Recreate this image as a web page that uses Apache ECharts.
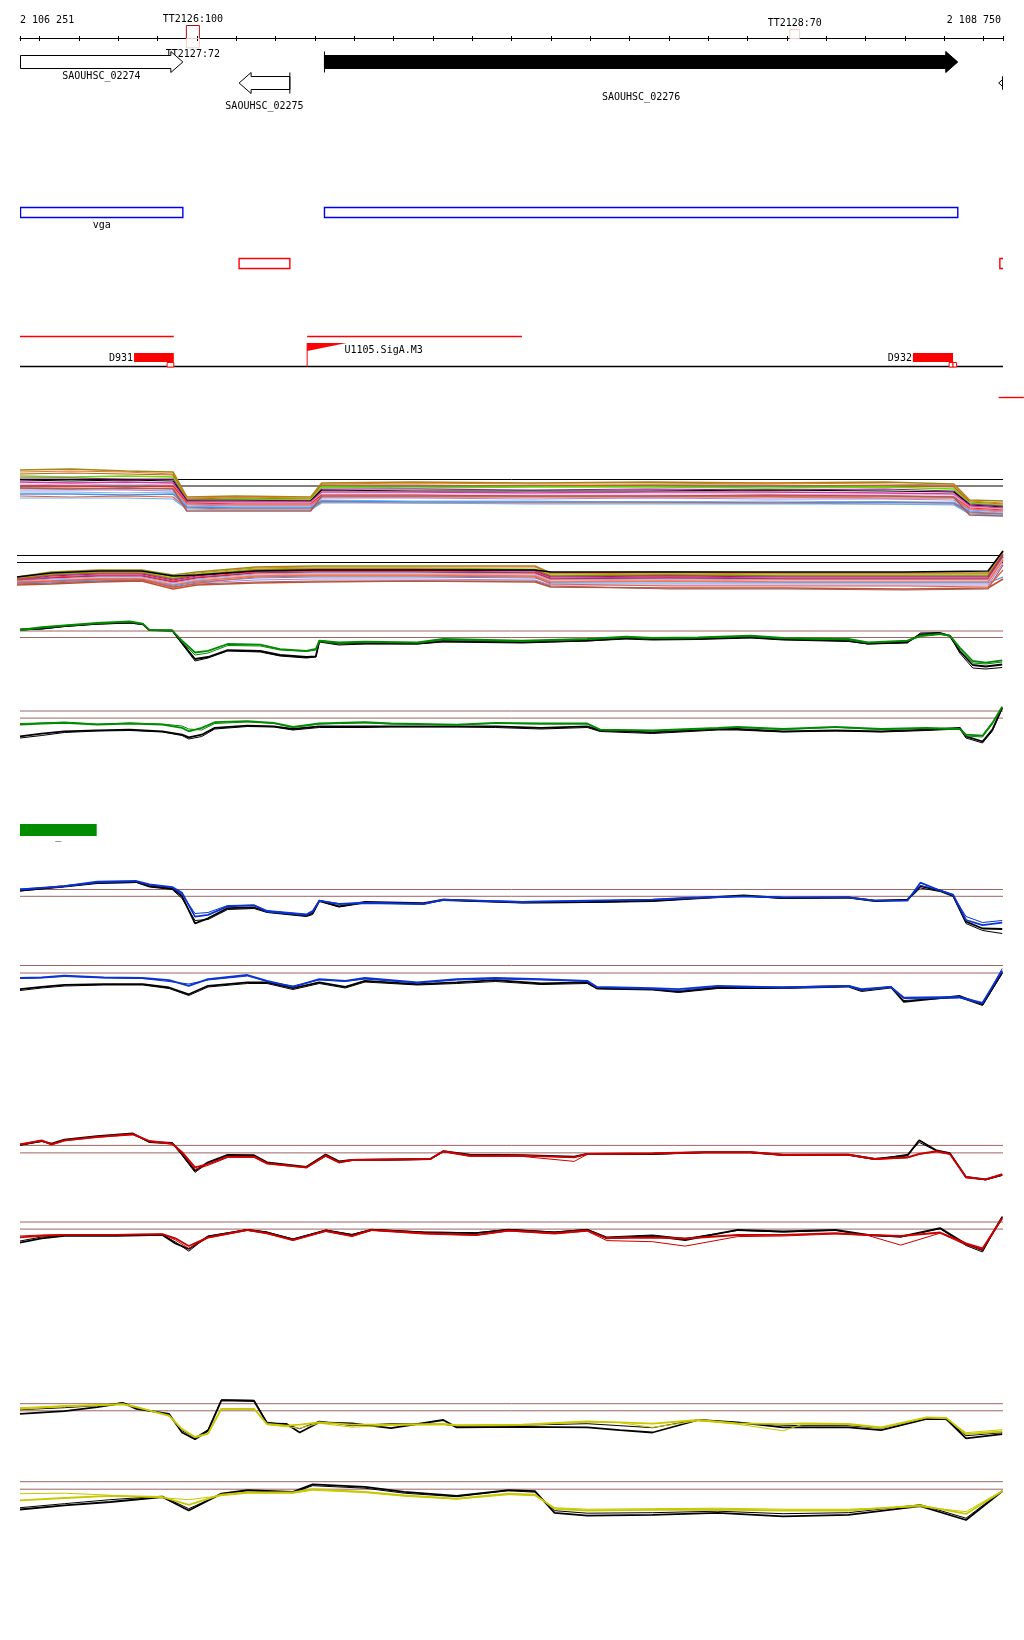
<!DOCTYPE html>
<html><head><meta charset="utf-8">
<script src="https://cdn.jsdelivr.net/npm/echarts@6/dist/echarts.min.js"></script>
<style>html,body{margin:0;padding:0;background:#fff}#c{width:1024px;height:1640px}</style>
</head><body><div id="c"></div>
<script>
// ================= DATA =================
const START = 2106251, END = 2108750;
const rulerTicks = [2106251,2106300,2106400,2106500,2106600,2106700,2106800,2106900,2107000,2107100,2107200,2107300,2107400,2107500,2107600,2107700,2107800,2107900,2108000,2108100,2108200,2108300,2108400,2108500,2108600,2108700,2108750];
const rulerLabelPos = [2106251, 2108750];
const rulerLabels = ['2 106 251', '2 108 750'];

const geneNames  = ['SAOUHSC_02274','SAOUHSC_02275','SAOUHSC_02276',''];
const geneStart  = [2106200, 2106808, 2107025, 2108739];
const geneEnd    = [2106665, 2106937, 2108635, 2109100];
const geneStrand = ['+','-','+','-'];
const geneFilled = [false, false, true, false];

const ttNames  = ['TT2126:100','TT2127:72','TT2128:70'];
const ttStart  = [2106674, 2106674, 2108208];
const ttEnd    = [2106707, 2106707, 2108233];
const ttStrand = ['+','-','+'];
const ttScore  = [100, 72, 70];

const unitNames = ['vga',''];
const unitStart = [2106251, 2107025];
const unitEnd   = [2106665, 2108635];

const redBoxStart = [2106808, 2108742];
const redBoxEnd   = [2106937, 2109100];

const redLineStart = [2106251, 2106981];
const redLineEnd   = [2106642, 2107527];
const redLine2Start = [2108739];
const redLine2End   = [2108803];

const siteNames = ['D931','D932'];
const siteStart = [2106541, 2108521];
const siteEnd   = [2106642, 2108623];
const smallBoxStart = [2106625, 2108613, 2108623];
const smallBoxEnd   = [2106642, 2108623, 2108632];
const flagNames = ['U1105.SigA.M3'];
const flagStart = [2106981];
const flagEnd   = [2107081];

const greenNames = ['_'];
const greenStart = [2106251];
const greenEnd   = [2106446];

// ---- multi-sample track (upper / lower) ----
const posA1 = [2106251,2106380,2106520,2106640,2106675,2106800,2106990,2107018,2107250,2107550,2107850,2108150,2108450,2108625,2108665,2108750];
const thrA1 = [-1.5, -8];
const valsA1 = [
 [8,9,7,6,-19,-18,-19,-5,-4,-5,-4,-5,-4,-6,-22,-23],
 [6,7,6,4,-20,-19,-20,-6,-5,-6,-6,-5,-6,-7,-23,-25],
 [4,5,4,3,-21,-20,-21,-7,-7,-8,-7,-7,-8,-9,-24,-26],
 [2,1,2,1,-22,-21,-22,-9,-10,-9,-9,-10,-9,-11,-25,-27],
 [0,0,-1,-1,-22,-22,-23,-11,-11,-12,-11,-12,-11,-13,-26,-28],
 [-2,-3,-2,-3,-23,-23,-23,-12,-13,-13,-13,-12,-13,-14,-27,-29],
 [-4,-5,-4,-5,-24,-24,-24,-14,-14,-15,-14,-14,-15,-16,-28,-30],
 [-6,-7,-6,-7,-25,-25,-25,-16,-16,-16,-16,-16,-17,-17,-29,-31],
 [-8,-8,-9,-8,-25,-26,-26,-17,-17,-18,-18,-17,-18,-19,-30,-32],
 [-10,-10,-11,-10,-26,-27,-27,-19,-19,-19,-19,-19,-20,-20,-31,-33],
 [-12,-12,-12,-13,-27,-28,-28,-20,-20,-21,-20,-21,-21,-22,-32,-34],
 [-14,-14,-15,-14,-28,-29,-29,-22,-23,-23,-24,-23,-24,-24,-33,-35],
 [-16,-16,-17,-16,-29,-30,-30,-23,-24,-24,-24,-25,-24,-25,-34,-36],
 [-18,-19,-18,-19,-30,-31,-31,-24,-25,-25,-25,-25,-26,-26,-35,-36],
 [-20,-20,-20,-21,-31,-32,-32,-25,-25,-26,-26,-26,-26,-27,-36,-37],
 [-10,-11,-10,-11,-33,-33,-33,-18,-18,-18,-18,-18,-18,-19,-37,-38]
];
const posA2 = [2106243,2106330,2106450,2106560,2106640,2106700,2106850,2107000,2107250,2107560,2107600,2107900,2108200,2108500,2108712,2108750];
const thrA2 = [-0.5, -7.5];
const valsA2 = [
 [-22,-17,-15,-15,-20,-17,-12,-11,-11,-11,-18,-17,-18,-18,-18,4],
 [-23,-18,-16,-16,-22,-18,-13,-12,-12,-12,-19,-18,-19,-19,-19,3],
 [-24,-19,-17,-17,-23,-19,-14,-13,-13,-14,-20,-19,-20,-20,-20,2],
 [-24,-20,-18,-18,-24,-20,-15,-14,-14,-15,-21,-20,-21,-21,-21,1],
 [-25,-21,-19,-19,-25,-21,-16,-15,-15,-16,-22,-21,-22,-22,-22,0],
 [-25,-22,-20,-20,-26,-22,-17,-16,-16,-17,-23,-22,-23,-23,-23,-1],
 [-26,-23,-21,-21,-27,-23,-18,-17,-17,-18,-24,-23,-24,-24,-24,-2],
 [-26,-24,-22,-22,-28,-24,-19,-18,-18,-19,-25,-24,-25,-25,-25,-3],
 [-27,-25,-23,-23,-29,-25,-20,-19,-19,-20,-26,-25,-26,-26,-26,-4],
 [-27,-26,-24,-24,-30,-26,-21,-20,-20,-21,-27,-26,-27,-27,-27,-5],
 [-28,-27,-25,-25,-31,-27,-23,-22,-22,-23,-28,-28,-28,-28,-28,-22],
 [-29,-28,-26,-25,-32,-28,-25,-24,-24,-25,-30,-30,-30,-30,-30,-8],
 [-30,-29,-27,-26,-34,-30,-28,-27,-26,-27,-32,-33,-33,-34,-33,-24],
 [-29,-28,-26,-25,-32,-29,-27,-26,-26,-26,-31,-34,-34,-35,-34,-10],
 [-28,-26,-24,-24,-33,-28,-22,-21,-21,-22,-29,-31,-31,-31,-32,-15],
 [-22,-18,-16,-16,-21,-20,-16,-15,-15,-15,-17,-17,-17,-17,-16,4]
];

// ---- green track ----
const posB1 = [2106251,2106306,2106364,2106447,2106530,2106563,2106580,2106638,2106663,2106696,2106729,2106779,2106862,2106912,2106979,2107003,2107012,2107062,2107128,2107261,2107327,2107527,2107693,2107792,2107859,2107975,2108108,2108191,2108357,2108407,2108507,2108540,2108590,2108615,2108640,2108673,2108706,2108748];
const thrB1 = [0, -6.5];
const b1Color   = [1.2,3.9,5.6,8,9.6,7.3,1.2,0.5,-9.7,-21.5,-19.8,-13,-13.7,-18.2,-19.8,-18,-9.7,-11.4,-10.7,-11.4,-8,-9.7,-8,-5.6,-7,-6.3,-4.6,-7,-8,-11.4,-9.7,-4.6,-2.9,-4.6,-16.5,-30,-31.7,-29.3];
const b1Color2  = [0.5,3,5,7.5,9,7,1,0.3,-11,-24,-22,-14.5,-15,-19,-20.5,-19,-10.5,-12.5,-11.5,-12,-9,-10.5,-8.5,-6.5,-7.5,-7,-5.5,-7.5,-9,-12,-10,-5.5,-3.5,-5,-18,-32,-33,-31];
const b1Black   = [1.5,2.5,5,7.2,8.5,6.8,0.8,0.5,-12,-28,-26,-19.2,-20,-24,-26,-25.5,-10,-12.5,-12,-12.5,-10,-11,-9.5,-7,-8,-7.5,-6,-8,-9.5,-12.5,-11,-3.5,-2.5,-5,-20,-34,-35.5,-33.5];
const b1Black2  = [1,2,4.5,7,8,6.5,0.5,0.3,-13,-30,-27,-20,-21,-25,-27,-26,-11,-14,-13,-13,-11,-12,-10,-8,-9,-8.5,-7,-9,-10.5,-13,-12,-2,-1.5,-4.5,-22,-37,-38,-36.5];

const posB2 = [2106251,2106306,2106364,2106447,2106530,2106613,2106663,2106680,2106713,2106746,2106829,2106896,2106945,2107012,2107128,2107194,2107361,2107460,2107576,2107693,2107726,2107859,2108025,2108075,2108191,2108324,2108440,2108556,2108640,2108656,2108698,2108723,2108748];
const thrB2 = [0, -7.1];
const b2Color  = [-13.6,-12.5,-11.9,-13.6,-12.5,-13.6,-16.9,-20.3,-16.9,-11.2,-10.2,-11.9,-15.9,-12.5,-11.2,-12.5,-13.6,-11.9,-12.5,-12.5,-18.6,-19.3,-16.9,-15.9,-18,-15.9,-18,-16.9,-18,-23.7,-24.7,-11.9,4.4];
const b2Color2 = [-12.5,-12,-11,-13,-12,-13,-15,-18,-19,-12.5,-11,-12.5,-16.5,-13,-12,-13,-14,-12.5,-13,-13,-19,-20,-17.5,-16.5,-18.5,-16.5,-18.5,-17.5,-18.5,-25,-26,-13,4];
const b2Black  = [-25.4,-22.7,-20.3,-19.3,-18.6,-20.3,-23.7,-26.4,-23.7,-16.9,-14.6,-15.3,-18,-15.3,-15.3,-15.3,-15.3,-15.3,-16.9,-15.3,-19.3,-21.4,-18,-18,-20.3,-19.3,-20.3,-18.6,-16.9,-25.4,-30.5,-18.6,3.4];
const b2Black2 = [-27,-24.5,-21.5,-20,-19.5,-21,-24.5,-28,-25.5,-18,-15.5,-16,-19,-16.5,-16.5,-16,-16,-16.5,-18,-16.5,-20.5,-22.5,-19,-19,-21,-20,-21,-19.5,-18,-27,-32,-20,2.5];

// ---- blue track ----
const posC1 = [2106251,2106364,2106447,2106547,2106580,2106638,2106663,2106696,2106729,2106779,2106846,2106879,2106979,2106995,2107012,2107062,2107128,2107277,2107327,2107527,2107693,2107859,2107942,2108091,2108191,2108357,2108424,2108507,2108540,2108590,2108623,2108656,2108698,2108748];
const thrC1 = [0, -6.8];
const c1Color  = [0,3.4,7.8,8.5,5.1,2.4,-3.4,-27.1,-25.4,-16.9,-15.9,-22,-25.4,-22,-11.2,-14.6,-13.6,-14.6,-10.2,-12.5,-11.2,-10.2,-8.5,-6.8,-7.8,-7.8,-11.2,-11.2,6.8,-1,-5.1,-30.5,-35.6,-33.2];
const c1Color2 = [0.5,3,7,8,4.5,2,-5,-24,-23,-16,-15.5,-21,-24.5,-21,-11,-14,-13,-14,-10.5,-12,-11.5,-10,-8.5,-7,-8,-8,-11,-11,4,-0.5,-6,-27,-33,-31];
const c1Black  = [-1,3.4,6.8,7.5,3.4,1,-6.8,-33.9,-28.8,-18.6,-18,-22,-26.1,-23.7,-11.2,-16.9,-12.5,-13.6,-10.2,-12.9,-12.5,-11.2,-9.2,-5.8,-8.5,-7.8,-11.2,-10.2,3.4,-1,-5.8,-32.2,-39,-39.5];
const c1Black2 = [-1.5,2.5,6,7,2.5,0,-9,-31,-30,-20,-19,-23,-27,-25,-12,-17.5,-13.5,-14.5,-11,-13.5,-13,-12,-10,-6.5,-9,-8.5,-12,-11,1.5,-2,-7,-34,-41,-44];

const posC2 = [2106251,2106306,2106364,2106464,2106563,2106630,2106680,2106729,2106829,2106879,2106945,2107012,2107078,2107128,2107261,2107361,2107460,2107576,2107693,2107718,2107859,2107925,2108025,2108191,2108357,2108390,2108465,2108498,2108640,2108698,2108748];
const thrC2 = [0, -7.5];
const c2Color  = [-12.5,-11.9,-10.2,-11.9,-12.5,-14.6,-20.3,-13.6,-9.5,-15.3,-21.4,-13.6,-15.3,-12.5,-16.9,-13.6,-12.5,-13.6,-15.3,-21.4,-22.7,-23.7,-20.3,-22,-20.3,-23.7,-21.4,-32.2,-31.5,-37.3,-5.1];
const c2Color2 = [-13,-12.5,-11,-12.5,-13,-16,-18.5,-14.5,-10.5,-16,-20.5,-14.5,-16,-13.5,-17.5,-14.5,-13.5,-14.5,-16,-22,-23.5,-25,-21,-22.5,-21,-24.5,-22,-33,-32.5,-38,-3];
const c2Black  = [-23.7,-21.4,-19.3,-18.6,-18.6,-22,-28.8,-20.3,-16.9,-16.9,-22.7,-16.9,-21.4,-15.3,-18.6,-16.9,-14.6,-18,-16.9,-22.7,-23.7,-26.1,-22,-22,-20.3,-24.7,-21.4,-36.3,-30.5,-39,-6.8];
const c2Black2 = [-25,-22.5,-20.5,-19.5,-19.5,-23,-30,-21.5,-18,-18,-24,-18,-22.5,-16.5,-19.5,-18,-16,-19,-18,-23.5,-24.5,-27,-23,-23,-21.5,-26,-22.5,-35,-32,-40,-8];

// ---- red track ----
const posD1 = [2106251,2106306,2106331,2106364,2106447,2106538,2106580,2106638,2106663,2106696,2106729,2106779,2106846,2106879,2106979,2107028,2107062,2107095,2107294,2107327,2107394,2107527,2107660,2107693,2107859,2107992,2108108,2108191,2108357,2108424,2108507,2108537,2108581,2108615,2108656,2108706,2108748];
const thrD1 = [0, -7.5];
const d1Color  = [1,5.1,1,5.1,8.5,11.2,4.4,1.7,-6.8,-22,-18.6,-11.2,-11.2,-18,-22,-10.2,-16.9,-14.6,-13.6,-5.8,-10.2,-10.2,-11.9,-8.5,-7.8,-6.8,-6.8,-9.2,-9.2,-13.6,-11.9,-8.5,-5.8,-8.5,-32.2,-33.9,-28.8];
const d1Color2 = [0.5,4.5,0.5,4.5,8,10.5,4,1,-8,-24,-20,-12,-12,-18.5,-22.5,-11,-17.5,-15,-14,-6.5,-11,-11,-16,-9,-8.5,-7.5,-7.5,-10,-10,-14,-12.5,-9,-6.5,-9,-31,-34.5,-29.5];
const d1Black  = [0.7,4.4,1.7,5.8,9.2,11.9,3.4,2.4,-8.5,-25.4,-16.9,-9.5,-9.8,-16.9,-21.4,-9.2,-15.9,-14.6,-13.6,-5.8,-9.2,-9.8,-11.2,-8.5,-8.5,-6.8,-6.8,-9.5,-9.2,-13.6,-10.2,5.1,-5.1,-7.8,-31.5,-33.9,-29.5];
const d1Black2 = [0,4,1.2,5.3,8.8,11.5,3,2,-10,-27,-17.5,-10,-10.3,-17.5,-22,-9.7,-16.5,-15,-14,-6.3,-9.7,-10.3,-11.7,-9,-9,-7.3,-7.3,-10,-9.7,-14,-9,3,-5.5,-8.3,-32,-34.5,-30];

const posD2 = [2106251,2106306,2106364,2106497,2106613,2106646,2106680,2106729,2106829,2106879,2106945,2107028,2107095,2107145,2107277,2107410,2107493,2107610,2107693,2107743,2107859,2107942,2108075,2108191,2108324,2108407,2108490,2108590,2108656,2108698,2108748];
const thrD2 = [0, -7.1];
const d2Color  = [-15.3,-13.9,-12.9,-12.9,-12.2,-16.3,-24,-15.3,-7.8,-11.2,-18,-8.8,-13.9,-7.8,-11.2,-12.9,-8.5,-11.2,-8.5,-16,-15.5,-16.5,-13,-12.9,-11.2,-12.9,-14,-10.5,-21.4,-26.4,4.1];
const d2Color2 = [-14,-13,-12.5,-12.5,-12,-18,-26.4,-16,-8.5,-11.8,-18.6,-9.5,-14.5,-8.5,-12,-13.5,-9,-12,-9.2,-18.6,-19.7,-24.1,-14.6,-14,-12,-13.5,-23.1,-11.2,-23,-28,3];
const d2Black  = [-20.7,-16.3,-13.9,-13.9,-12.9,-21.4,-27,-14.6,-7.8,-10.5,-17.3,-8.5,-12.9,-7.8,-10.5,-11.2,-7.8,-10.5,-7.8,-16.3,-13.9,-18,-7.8,-9.5,-7.8,-12.9,-14.6,-6.1,-22,-28.1,5.1];
const d2Black2 = [-19,-15,-13.5,-13.5,-12.5,-20,-29.2,-14,-7.5,-10,-17,-8,-12.5,-7.3,-10,-10.8,-7.3,-10,-7.3,-15,-13,-16.5,-8.5,-10,-8.5,-13.5,-15,-6.8,-23.5,-30,5.5];

// ---- yellow track ----
const posE1 = [2106251,2106364,2106447,2106513,2106547,2106630,2106663,2106696,2106729,2106763,2106846,2106879,2106929,2106962,2107012,2107095,2107194,2107327,2107361,2107527,2107693,2107776,2107859,2107975,2108075,2108191,2108241,2108357,2108440,2108556,2108606,2108656,2108748];
const thrE1 = [0, -7.1];
const e1Color  = [-5.1,-2.7,-1.7,-0.7,-3.4,-11.9,-25.4,-33.2,-29.8,-5.1,-5.1,-20.3,-22,-21,-18.6,-21,-21,-20.3,-21.4,-21,-17.6,-18.6,-20,-16.3,-19.7,-20.5,-19.7,-20.3,-23.7,-13.6,-14.2,-30.5,-27.8];
const e1Color2 = [-4,-2,-1,0,-3,-12.5,-26,-34,-30.5,-5.5,-5.5,-21,-23,-24.5,-19.5,-23.5,-21.5,-21,-22,-21.5,-18.5,-19,-23.7,-17,-20.5,-27.1,-20.5,-21,-24.5,-14,-15,-29,-26];
const e1Black  = [-10.2,-7.5,-3.4,0.7,-5.1,-10.2,-28.8,-35.6,-27.1,3.4,2.7,-19.7,-20.3,-28.8,-18.6,-19.7,-24.4,-16.3,-23.7,-23.1,-23.7,-26.4,-28.8,-16.3,-18.6,-23.7,-23.7,-23.7,-26.4,-15.3,-15.3,-34.6,-30.5];
const e1Black2 = [-6,-4,-2,1,-4,-11,-27,-34,-26,4,3.5,-18.5,-21,-25,-17.5,-22,-20,-20.5,-22.5,-21.5,-20,-22,-24,-16,-19,-21.5,-22,-22,-24.5,-14,-16,-32,-29];

const posE2 = [2106251,2106364,2106480,2106613,2106680,2106763,2106829,2106945,2106995,2107128,2107228,2107361,2107493,2107560,2107610,2107693,2107859,2108025,2108191,2108357,2108540,2108656,2108748];
const thrE2 = [0, -7.5];
const e2Color  = [-18.6,-16.3,-14.2,-15.3,-23.1,-12.9,-10.8,-10.8,-7.5,-10.2,-13.6,-16.9,-11.9,-12.9,-27.1,-28.8,-28.1,-27.8,-28.8,-28.8,-23.7,-32.2,-9.5];
const e2Color2 = [-12,-11.5,-13.5,-16,-18,-14,-11.5,-11.5,-8.5,-11,-14.5,-17.5,-13,-14,-26,-27.5,-27,-26.5,-27.5,-27.5,-25,-30,-9];
const e2Black  = [-27.8,-23.7,-20.3,-15.3,-28.8,-11.9,-8.5,-10.2,-2.7,-5.1,-10.2,-14.2,-8.5,-9.5,-31.2,-33.9,-33.2,-31.2,-34.6,-33.2,-24.4,-38.3,-9.5];
const e2Black2 = [-26,-22,-18,-14.5,-27,-12.5,-9,-11,-4,-6.5,-11.5,-15,-9,-10.5,-29,-31.5,-31,-29.5,-32,-31,-23,-36.5,-9];

// ================= STYLE / LAYOUT =================
const FONT = '10px "DejaVu Sans Mono", monospace';
const LAY = {
  rulerY: 38.5,
  plusRow:  {top:55.5, bottom:68.5, headTop:51.5, headBottom:72.5, mid:62},
  minusRow: {top:76.5, bottom:89.5, headTop:72.5, headBottom:93.5, mid:83},
  headLen: 12,
  geneLabelY: [76, 106, 97, 106],
  ttScale: 0.13,
  unitY: [207.5, 217.5], unitLabelY: 225,
  redBoxY: [258.5, 268.5],
  redLineY: 336.5, redLine2Y: 397.5,
  siteY: [353, 362], siteLabelY: 358, smallBoxY: [362.5, 367],
  flagY: [343, 351], flagLabelY: 350, baseY: 366.5,
  greenY: [824, 836], greenLabelY: 836
};
const multiColorsA1 = ['#9a8a18','#e87820','#b8641c','#66dd00','#9a1a8a','#000000','#d03aa0','#e89ad0','#e02020','#f07850','#b080e0','#78b8f0','#4a90e0','#f05a28','#60b0ff','#a06060'];
const multiColorsA2 = ['#9a8a18','#e87820','#66dd00','#b8641c','#9a1a8a','#d03aa0','#e02020','#78b8f0','#e89ad0','#f07850','#4a90e0','#b080e0','#c05030','#a06060','#e06040','#000000'];
const THR_COLOR = '#a06464';

// ================= BUILD =================
const chart = echarts.init(document.getElementById('c'), null, {renderer:'canvas'});
const grids = [], xAxes = [], yAxes = [], series = [];

grids.push({left:20, right:21, top:38, height:812});
xAxes.push({type:'value', gridIndex:0, position:'top', min:START, max:END,
  axisLine:{show:true, onZero:false, lineStyle:{color:'#000', width:1}}, axisTick:{show:false}, axisLabel:{show:false}, splitLine:{show:false}});
yAxes.push({type:'value', gridIndex:0, min:0, max:1, show:false});

function txt(x, y, s, align) {
  return {type:'text', style:{text:s, x:x, y:y, fill:'#000', font:FONT, align:align||'center', verticalAlign:'middle'}};
}
function X(api, v) { return api.coord([v, 0])[0]; }
function custom(data, render, clip) {
  series.push({type:'custom', xAxisIndex:0, yAxisIndex:0, data:data, renderItem:render, clip:clip, silent:true, z:5, animation:false});
}

// ruler ticks
custom(rulerTicks.map(v => [v, 0]), function(p, api){
  const x = Math.round(X(api, api.value(0))) + 0.5;
  return {type:'line', shape:{x1:x, y1:LAY.rulerY-2.5, x2:x, y2:LAY.rulerY+2.5}, style:{stroke:'#000', lineWidth:1}};
}, false);
// ruler labels
custom(rulerLabelPos.map((v,i) => [v, i]), function(p, api){
  const i = api.value(1); const x = X(api, api.value(0));
  return txt(i === 0 ? x : x - 2, 20, rulerLabels[i], i === 0 ? 'left' : 'right');
}, false);
// terminators
custom(ttStart.map((s,i) => [s, ttEnd[i], i]), function(p, api){
  const i = api.value(2);
  const a = X(api, api.value(0)), b = X(api, api.value(1));
  const h = ttScore[i] * LAY.ttScale;
  const col = ttScore[i] >= 90 ? '#a31515' : '#f3cdc3';
  const plus = ttStrand[i] === '+';
  const y = plus ? LAY.rulerY - h : LAY.rulerY;
  return {type:'group', children:[
    {type:'rect', shape:{x:a, y:y, width:b-a, height:h}, style:{fill:null, stroke:col, lineWidth:1}},
    txt((a+b)/2, plus ? y - 6 : LAY.rulerY + h + 7, ttNames[i])
  ]};
}, false);
// genes
custom(geneStart.map((s,i) => [s, geneEnd[i], i]), function(p, api){
  const i = api.value(2);
  const xS = X(api, START), xE = X(api, END);
  const a = X(api, api.value(0)), b = X(api, api.value(1));
  const plus = geneStrand[i] === '+';
  const R = plus ? LAY.plusRow : LAY.minusRow, h = LAY.headLen;
  let pts, tickX = null;
  if (plus) {
    const x0 = Math.max(a, xS + 0.5), xb = b - h;
    pts = [[x0,R.top],[xb,R.top],[xb,R.headTop],[b,R.mid],[xb,R.headBottom],[xb,R.bottom],[x0,R.bottom]];
    if (a >= xS) tickX = a;
  } else {
    const x1 = Math.min(b, xE - 0.5), xb = a + h;
    pts = [[x1,R.top],[xb,R.top],[xb,R.headTop],[a,R.mid],[xb,R.headBottom],[xb,R.bottom],[x1,R.bottom]];
    if (b <= xE) tickX = b;
  }
  const ch = [{type:'polygon', shape:{points:pts}, style:{fill: geneFilled[i] ? '#000' : '#fff', stroke:'#000', lineWidth:1}}];
  if (tickX !== null) ch.push({type:'line', shape:{x1:tickX, y1:R.headTop, x2:tickX, y2:R.headBottom}, style:{stroke:'#000', lineWidth:1}});
  const vs = Math.max(a, xS), ve = Math.min(b, xE);
  if (geneNames[i] && ve > vs) ch.push(txt((vs+ve)/2, LAY.geneLabelY[i], geneNames[i]));
  return {type:'group', children:ch};
}, true);
// transcription units (blue boxes)
custom(unitStart.map((s,i) => [s, unitEnd[i], i]), function(p, api){
  const i = api.value(2);
  const a = Math.max(X(api, api.value(0)), X(api, START) + 0.5), b = X(api, api.value(1));
  const ch = [{type:'rect', shape:{x:a, y:LAY.unitY[0], width:b-a, height:LAY.unitY[1]-LAY.unitY[0]}, style:{fill:null, stroke:'#0000ee', lineWidth:1.4}}];
  if (unitNames[i]) ch.push(txt((a+b)/2, LAY.unitLabelY, unitNames[i]));
  return {type:'group', children:ch};
}, true);
// red boxes
custom(redBoxStart.map((s,i) => [s, redBoxEnd[i], i]), function(p, api){
  const a = X(api, api.value(0)), b = X(api, api.value(1));
  return {type:'rect', shape:{x:a, y:LAY.redBoxY[0], width:b-a, height:LAY.redBoxY[1]-LAY.redBoxY[0]}, style:{fill:null, stroke:'#ff0000', lineWidth:1.4}};
}, true);
// red lines
custom(redLineStart.map((s,i) => [s, redLineEnd[i], i]), function(p, api){
  const a = X(api, api.value(0)), b = X(api, api.value(1));
  return {type:'line', shape:{x1:a, y1:LAY.redLineY, x2:b, y2:LAY.redLineY}, style:{stroke:'#ff0000', lineWidth:1.4}};
}, true);
custom(redLine2Start.map((s,i) => [s, redLine2End[i], i]), function(p, api){
  const a = X(api, api.value(0)), b = X(api, api.value(1));
  return {type:'line', shape:{x1:a, y1:LAY.redLine2Y, x2:b, y2:LAY.redLine2Y}, style:{stroke:'#ff0000', lineWidth:1.4}};
}, false);
// baseline of site track
custom([[START, END]], function(p, api){
  return {type:'line', shape:{x1:X(api, api.value(0)), y1:LAY.baseY, x2:X(api, api.value(1)), y2:LAY.baseY}, style:{stroke:'#000', lineWidth:1.4}};
}, false);
// sites
custom(siteStart.map((s,i) => [s, siteEnd[i], i]), function(p, api){
  const i = api.value(2);
  const a = X(api, api.value(0)), b = X(api, api.value(1));
  return {type:'group', children:[
    {type:'rect', shape:{x:a, y:LAY.siteY[0], width:b-a, height:LAY.siteY[1]-LAY.siteY[0]}, style:{fill:'#ff0000'}},
    txt(a - 1, LAY.siteLabelY, siteNames[i], 'right')
  ]};
}, true);
custom(smallBoxStart.map((s,i) => [s, smallBoxEnd[i], i]), function(p, api){
  const a = X(api, api.value(0)), b = X(api, api.value(1));
  return {type:'rect', shape:{x:a, y:LAY.smallBoxY[0], width:b-a, height:LAY.smallBoxY[1]-LAY.smallBoxY[0]}, style:{fill:'#fff', stroke:'#ff0000', lineWidth:1}};
}, true);
custom(flagStart.map((s,i) => [s, flagEnd[i], i]), function(p, api){
  const i = api.value(2);
  const a = X(api, api.value(0)), b = X(api, api.value(1));
  return {type:'group', children:[
    {type:'line', shape:{x1:a, y1:LAY.flagY[0], x2:a, y2:LAY.baseY}, style:{stroke:'#ff0000', lineWidth:1}},
    {type:'polygon', shape:{points:[[a, LAY.flagY[0]],[b, LAY.flagY[0]],[a, LAY.flagY[1]]]}, style:{fill:'#ff0000'}},
    txt(b - 2, LAY.flagLabelY, flagNames[i], 'left')
  ]};
}, true);
// green bar
custom(greenStart.map((s,i) => [s, greenEnd[i], i]), function(p, api){
  const i = api.value(2);
  const a = X(api, api.value(0)), b = X(api, api.value(1));
  return {type:'group', children:[
    {type:'rect', shape:{x:a, y:LAY.greenY[0], width:b-a, height:LAY.greenY[1]-LAY.greenY[0]}, style:{fill:'#008c00'}},
    txt((a+b)/2, LAY.greenLabelY, greenNames[i])
  ]};
}, true);

// ---- signal panels ----
const PANELS = [
  {top:466,    min:-42, max:12, left:20, xmin:START,   thr:thrA1, thrColor:'#000', pos:posA1, multi:valsA1, colors:multiColorsA1},
  {top:545,    min:-42, max:10, left:17, xmin:2106243, thr:thrA2, thrColor:'#000', pos:posA2, multi:valsA2, colors:multiColorsA2},
  {top:619,    min:-40, max:12, pos:posB1, thr:thrB1, col:'#008a00', lines:[b1Black2,b1Black,b1Color2,b1Color]},
  {top:703,    min:-34, max:8,  pos:posB2, thr:thrB2, col:'#008a00', lines:[b2Black2,b2Black,b2Color2,b2Color]},
  {top:877.5,  min:-48, max:12, pos:posC1, thr:thrC1, col:'#0a32d0', lines:[c1Black2,c1Black,c1Color2,c1Color]},
  {top:957.5,  min:-42, max:8,  pos:posC2, thr:thrC2, col:'#0a32d0', lines:[c2Black2,c2Black,c2Color2,c2Color]},
  {top:1131.4, min:-38, max:14, pos:posD1, thr:thrD1, col:'#cc0000', lines:[d1Black2,d1Black,d1Color2,d1Color]},
  {top:1214,   min:-32, max:8,  pos:posD2, thr:thrD2, col:'#cc0000', lines:[d2Black2,d2Black,d2Color2,d2Color]},
  {top:1395.7, min:-38, max:8,  pos:posE1, thr:thrE1, col:'#c8c800', lines:[e1Black2,e1Black,e1Color2,e1Color]},
  {top:1473.7, min:-42, max:8,  pos:posE2, thr:thrE2, col:'#c8c800', lines:[e2Black2,e2Black,e2Color2,e2Color]}
];
function pairs(pos, vals) { return pos.map((p, k) => [p, vals[k]]); }
PANELS.forEach(function(P, n){
  const k = n + 1;
  const left = P.left || 20, xmin = P.xmin || START;
  grids.push({left:left, right:21, top:P.top, height:P.max - P.min});
  xAxes.push({type:'value', gridIndex:k, min:xmin, max:END, show:false});
  yAxes.push({type:'value', gridIndex:k, min:P.min, max:P.max, show:false});
  const base = {type:'line', xAxisIndex:k, yAxisIndex:k, showSymbol:false, symbol:'none', silent:true, animation:false};
  P.thr.forEach(function(t){
    series.push(Object.assign({}, base, {data:[[xmin, t],[END, t]], lineStyle:{color:P.thrColor || THR_COLOR, width:1}, z:1}));
  });
  if (P.multi) {
    P.multi.forEach(function(vals, j){
      series.push(Object.assign({}, base, {data:pairs(P.pos, vals), lineStyle:{color:P.colors[j], width: j % 3 === 0 ? 1.6 : 1.2}, z:2}));
    });
  } else {
    const cols = ['#000','#000',P.col,P.col], widths = [1,1.8,1,1.8];
    P.lines.forEach(function(vals, j){
      series.push(Object.assign({}, base, {data:pairs(P.pos, vals), lineStyle:{color:cols[j], width:widths[j]}, z:2 + j}));
    });
  }
});

chart.setOption({
  backgroundColor:'#ffffff',
  animation:false,
  grid:grids, xAxis:xAxes, yAxis:yAxes, series:series
});
</script>
</body></html>
